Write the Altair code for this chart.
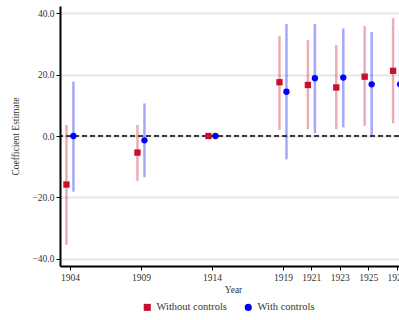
import altair as alt
import pandas as pd

# Event-study coefficients by year, estimated without and with controls
years = [1904, 1909, 1914, 1919, 1921, 1923, 1925, 1927]

est_without = [-15.8, -5.4, 0.0, 17.5, 16.6, 15.8, 19.3, 21.2]
lo_without = [-35.4, -14.6, 0.0, 2.0, 2.2, 2.2, 3.3, 4.1]
hi_without = [3.6, 3.6, 0.0, 32.5, 31.2, 29.6, 35.8, 38.3]

est_with = [0.0, -1.4, 0.0, 14.4, 18.8, 19.0, 16.8, 16.8]
lo_with = [-18.1, -13.4, 0.0, -7.6, 0.9, 2.8, -0.2, 0.0]
hi_with = [17.7, 10.6, 0.0, 36.4, 36.4, 35.0, 33.9, 34.5]

series_names = ["Without controls", "With controls"]
series_colors = ["#c8102e", "#0000ff"]
series_shapes = ["square", "circle"]

df = pd.concat([
    pd.DataFrame({"year": years, "est": est_without, "lo": lo_without,
                  "hi": hi_without, "model": series_names[0]}),
    pd.DataFrame({"year": years, "est": est_with, "lo": lo_with,
                  "hi": hi_with, "model": series_names[1]}),
])

FONT = "Liberation Serif"
TEXT = "#333333"

x_scale = alt.Scale(domain=[1903.3, 1927.17], nice=False, zero=False)
y_scale = alt.Scale(domain=[-42.3, 42.3], nice=False)

x_axis = alt.Axis(values=years, format="d", title="Year", grid=False,
                  titleX=173, titleY=18, titleFontWeight="normal",
                  titleFontSize=9.5, labelFontSize=9.5, labelPadding=2,
                  tickSize=4, tickColor="black", domainColor="black",
                  domainWidth=2, labelColor=TEXT, titleColor=TEXT,
                  labelFont=FONT, titleFont=FONT)
y_axis = alt.Axis(values=[-40, -20, 0, 20, 40], format=".1f",
                  title="Coefficient Estimate", grid=True,
                  gridColor="#e6e6e6", gridWidth=2,
                  titleFontWeight="normal", titleFontSize=9.5, titlePadding=12,
                  labelFontSize=9.5, labelPadding=2, tickSize=4,
                  tickColor="black", domainColor="black", domainWidth=2,
                  labelColor=TEXT, titleColor=TEXT,
                  labelFont=FONT, titleFont=FONT)

color = alt.Color("model:N", scale=alt.Scale(domain=series_names, range=series_colors),
                  legend=alt.Legend(title=None, orient="none", direction="horizontal",
                                    legendX=82, legendY=296,
                                    labelFont=FONT, labelFontSize=10.5,
                                    labelColor=TEXT, symbolSize=50,
                                    columnPadding=16))
shape = alt.Shape("model:N", scale=alt.Scale(domain=series_names, range=series_shapes))

base = alt.Chart(df)

# invisible layer carrying the axes
axes = base.mark_point(opacity=0).encode(
    x=alt.X("year:Q", scale=x_scale, axis=x_axis),
    y=alt.Y("est:Q", scale=y_scale, axis=y_axis),
)

zero_line = alt.Chart(pd.DataFrame({"z": [0]})).mark_rule(
    color="black", strokeDash=[5, 3], strokeWidth=1.6
).encode(y=alt.Y("z:Q", scale=y_scale))

layers = [axes, zero_line]
for name, col, off in zip(series_names, series_colors, [-3.5, 3.5]):
    sub = base.transform_filter(alt.datum.model == name)
    ci = sub.mark_rule(color=col, strokeWidth=2.5, opacity=0.35, xOffset=off).encode(
        x=alt.X("year:Q", scale=x_scale),
        y=alt.Y("lo:Q", scale=y_scale),
        y2="hi:Q",
    )
    pt = sub.mark_point(filled=True, opacity=1, size=40, xOffset=off).encode(
        x=alt.X("year:Q", scale=x_scale),
        y=alt.Y("est:Q", scale=y_scale),
        color=color,
        shape=shape,
    )
    layers += [ci, pt]

chart = alt.layer(*layers).properties(
    width=339, height=260,
    autosize=alt.AutoSizeParams(type="none"),
    padding={"left": 60, "top": 6, "right": 0, "bottom": 54},
).configure_view(stroke=None).configure_axis(labelFont=FONT, titleFont=FONT)

chart.save("out.html", embed_options={"renderer": "svg", "actions": False})
